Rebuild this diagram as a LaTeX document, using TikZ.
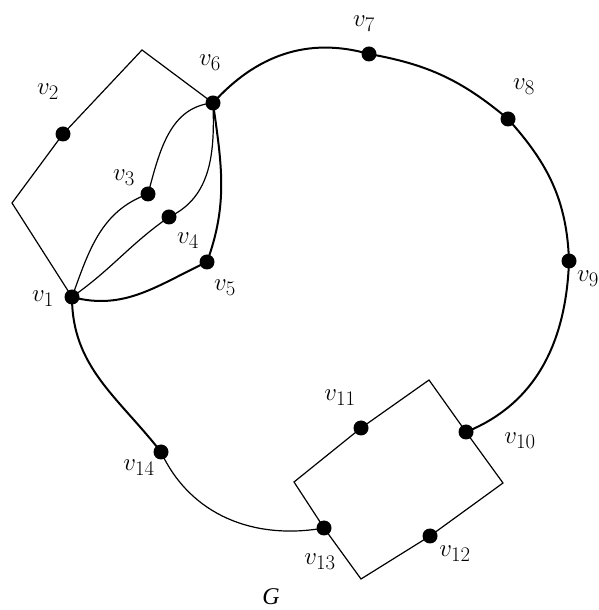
\documentclass[tikz,border=0pt]{standalone}
\usepackage{fontspec}
\setmainfont{Liberation Serif}
\begin{document}
\begin{tikzpicture}[x=1pt,y=1pt,
  dot/.style={circle,fill=black,inner sep=0pt,minimum size=15pt},
  lab/.style={font=\fontsize{30}{34}\selectfont,inner sep=0pt},
  thinedge/.style={line width=1.2pt},
  thickedge/.style={line width=2pt}]
\useasboundingbox (0,0) rectangle (599,610);
% vertices
\coordinate (v1) at (72,313);
\coordinate (v2) at (63,476);
\coordinate (v3) at (148,416);
\coordinate (v4) at (169,393);
\coordinate (v5) at (207,348);
\coordinate (v6) at (213,507);
\coordinate (v7) at (369,556);
\coordinate (v8) at (508,491);
\coordinate (v9) at (569,349);
\coordinate (v10) at (466,178);
\coordinate (v11) at (361,182);
\coordinate (v12) at (430,74);
\coordinate (v13) at (324,82);
\coordinate (v14) at (161,158);
% polygon corners
\coordinate (cl) at (12,407);
\coordinate (ct) at (142,560);
\coordinate (rl) at (294,128);
\coordinate (rt) at (429,230);
\coordinate (rr) at (503,127);
\coordinate (rb) at (361,31);
% left polygon
\draw[thinedge] (v1) -- (cl) -- (v2) -- (ct) -- (v6);
% right rectangle
\draw[thinedge] (rl) -- (v11) -- (rt) -- (v10) -- (rr) -- (v12) -- (rb) -- (v13) -- cycle;
% outer cycle
\draw[thickedge] (v6) to[out=48,in=164] (v7) to[out=-10,in=140] (v8)
  to[out=-48,in=92] (v9) to[out=-92,in=22] (v10);
\draw[thickedge] (v1) to[out=-90,in=128] (v14);
\draw[thinedge] (v14) to[out=-65,in=190] (v13);
% inner paths v1 - v6
\draw[thinedge] (v1) to[out=70,in=200] (v3) to[out=75,in=185] (v6);
\draw[thinedge] (v1) to[out=35,in=215] (v4) to[out=25,in=-88] (v6);
\draw[thickedge] (v1) to[out=-15,in=205] (v5) to[out=70,in=-82] (v6);
% dots
\foreach \i in {1,...,14} \node[dot] (d\i) at (v\i) {};
% labels
\node[lab] (l1) at (43,311) {$v_{1}$};
\node[lab] (l2) at (48,518) {$v_{2}$};
\node[lab] (l3) at (124,432) {$v_{3}$};
\node[lab] (l4) at (188,369) {$v_{4}$};
\node[lab] (l5) at (225,322) {$v_{5}$};
\node[lab] (l6) at (210,547) {$v_{6}$};
\node[lab] (l7) at (364,586) {$v_{7}$};
\node[lab] (l8) at (524,523) {$v_{8}$};
\node[lab,anchor=west] (l9) at (577,331) {$v_{9}$};
\node[lab] (l10) at (520,169) {$v_{10}$};
\node[lab] (l11) at (340,212) {$v_{11}$};
\node[lab] (l12) at (455,56) {$v_{12}$};
\node[lab] (l13) at (320,48) {$v_{13}$};
\node[lab] (l14) at (139,142) {$v_{14}$};
\node[font=\fontsize{24}{28}\selectfont\itshape,inner sep=0pt] (g) at (271,13) {G};
\end{tikzpicture}
\end{document}
